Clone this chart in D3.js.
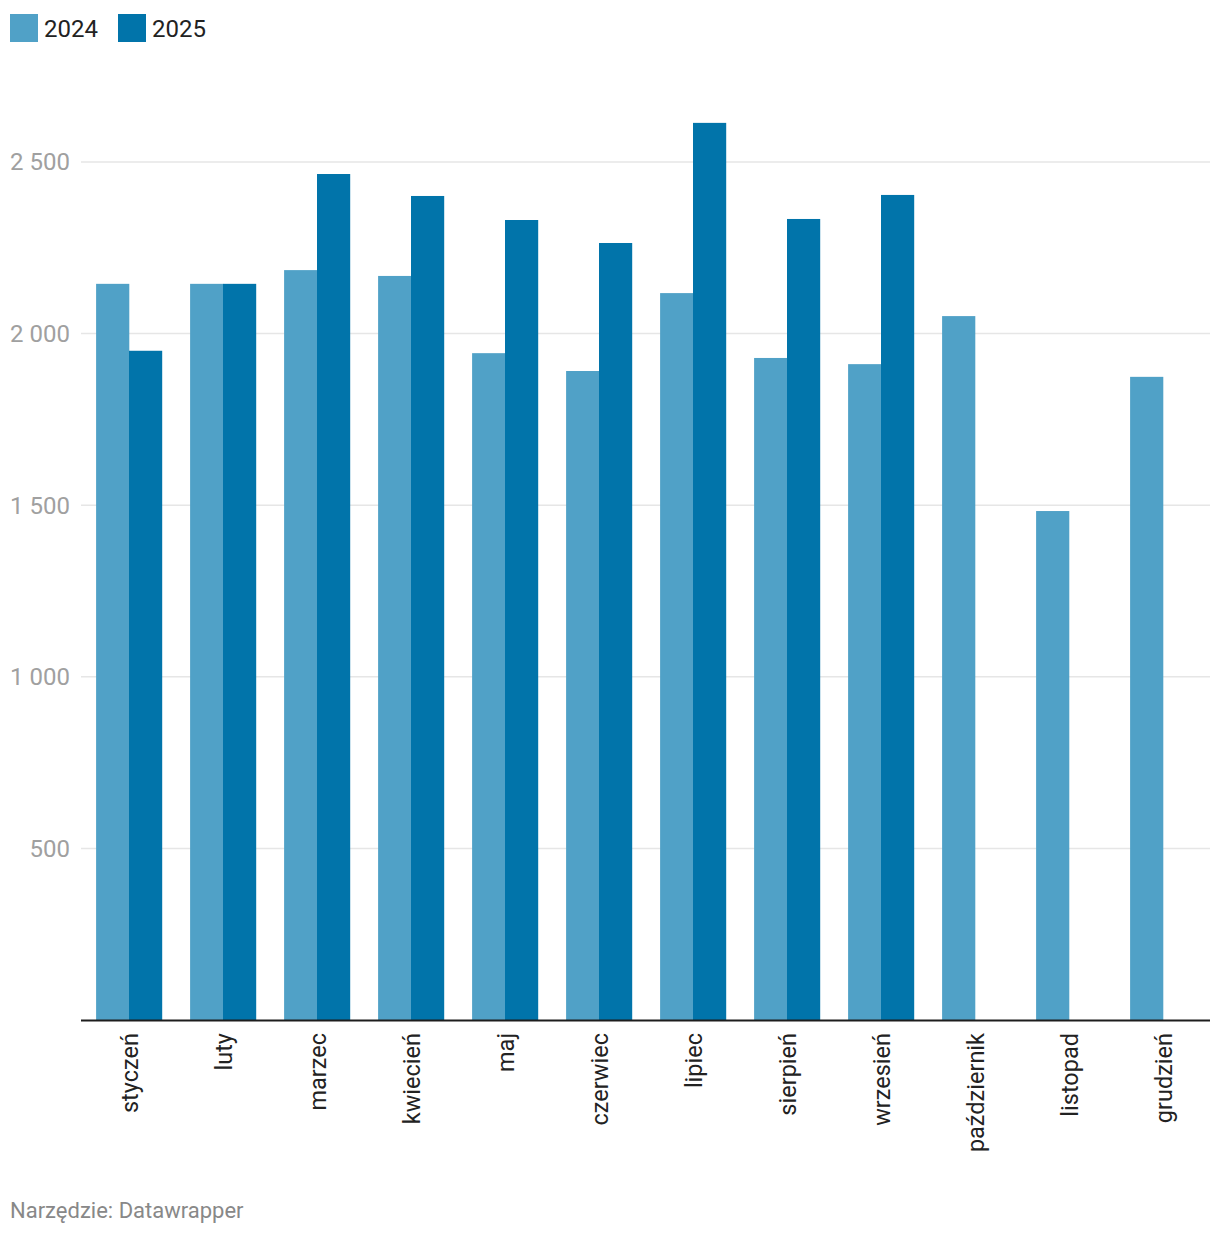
<!DOCTYPE html>
<html lang="pl">
<head>
    <meta charset="UTF-8">
    <title>2024 / 2025</title>
    <script src="https://d3js.org/d3.v7.min.js"></script>
    <style>
        html, body { margin: 0; padding: 0; background: #fff; }
        svg { display: block; font-family: Roboto, "Noto Sans", sans-serif; }
        .grid line { stroke: #e6e6e6; stroke-width: 1.5px; }
        .ytick { fill: #a0a0a0; font-size: 24px; }
        .xtick { fill: #222; font-size: 23.5px; }
        .legend text { fill: #222; font-size: 24px; }
        .source { fill: #888; font-size: 22px; }
    </style>
</head>
<body>
    <svg width="1220" height="1236"></svg>
    <script>
        // data
        const months = ["styczeń", "luty", "marzec", "kwiecień", "maj", "czerwiec",
                        "lipiec", "sierpień", "wrzesień", "październik", "listopad", "grudzień"];
        const series = ["2024", "2025"];
        const values2024 = [2145, 2145, 2185, 2168, 1943, 1891, 2118, 1929, 1911, 2051, 1483, 1874];
        const values2025 = [1950, 2145, 2465, 2401, 2331, 2264, 2614, 2334, 2404, null, null, null];
        const yTicks = [500, 1000, 1500, 2000, 2500];
        const colors = ["#50a1c7", "#0174aa"];

        const svg = d3.select("svg");
        const left = 81, right = 1210, baseY = 1020;

        const x = d3.scaleBand()
            .domain(months)
            .range([left + 1, right])
            .paddingInner(0.3)
            .paddingOuter(0.15);

        const xSub = d3.scaleBand()
            .domain(series)
            .range([0, x.bandwidth()]);

        const y = d3.scaleLinear()
            .domain([0, 2500])
            .range([baseY, 162]);

        const color = d3.scaleOrdinal().domain(series).range(colors);

        // gridlines + y labels
        const grid = svg.append("g").attr("class", "grid");
        grid.selectAll("line")
            .data(yTicks)
            .enter().append("line")
            .attr("x1", left)
            .attr("x2", right)
            .attr("y1", d => y(d))
            .attr("y2", d => y(d));

        svg.append("g").selectAll("text")
            .data(yTicks)
            .enter().append("text")
            .attr("class", "ytick")
            .attr("x", 70)
            .attr("y", d => y(d))
            .attr("dy", "0.35em")
            .attr("text-anchor", "end")
            .text(d => d3.format(",")(d).replace(",", " "));

        // bars
        const rows = months.map((m, i) => ({
            month: m,
            vals: [
                { key: "2024", value: values2024[i] },
                { key: "2025", value: values2025[i] }
            ]
        }));

        const groups = svg.append("g")
            .selectAll("g")
            .data(rows)
            .enter().append("g")
            .attr("transform", d => `translate(${x(d.month)},0)`);

        groups.selectAll("rect")
            .data(d => d.vals.filter(v => v.value != null))
            .enter().append("rect")
            .attr("x", d => xSub(d.key))
            .attr("width", xSub.bandwidth() + 0.3)
            .attr("y", d => y(d.value))
            .attr("height", d => baseY - y(d.value))
            .attr("fill", d => color(d.key));

        // baseline
        svg.append("line")
            .attr("x1", left)
            .attr("x2", right)
            .attr("y1", baseY + 0.5)
            .attr("y2", baseY + 0.5)
            .attr("stroke", "#1d1d1d")
            .attr("stroke-width", 2);

        // month labels, rotated
        svg.append("g").selectAll("text")
            .data(months)
            .enter().append("text")
            .attr("class", "xtick")
            .attr("transform", d => `translate(${x(d) + x.bandwidth() / 2 + 1},1033) rotate(-90)`)
            .attr("dy", "0.35em")
            .attr("text-anchor", "end")
            .text(d => d);

        // legend
        const legend = svg.append("g").attr("class", "legend");
        const legendX = [10, 118];
        series.forEach((s, i) => {
            legend.append("rect")
                .attr("x", legendX[i])
                .attr("y", 14)
                .attr("width", 28)
                .attr("height", 28)
                .attr("fill", color(s));
            legend.append("text")
                .attr("x", legendX[i] + 34)
                .attr("y", 37)
                .text(s);
        });

        svg.append("text")
            .attr("class", "source")
            .attr("x", 10)
            .attr("y", 1218)
            .text("Narzędzie: Datawrapper");
    </script>
</body>
</html>
